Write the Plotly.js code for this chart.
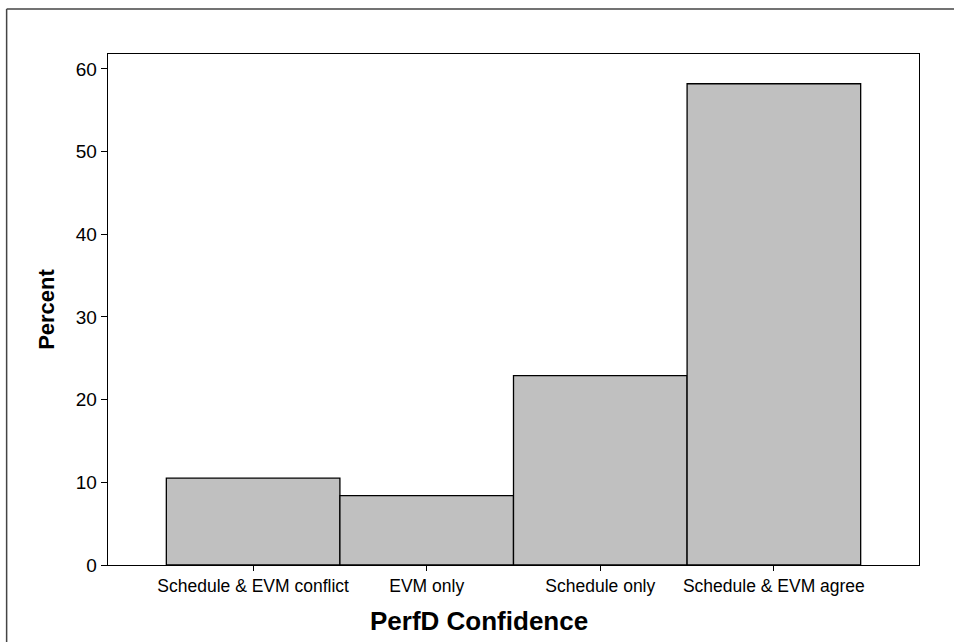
<!DOCTYPE html>
<html><head><meta charset="utf-8">
<script src="https://cdn.plot.ly/plotly-3.0.1.min.js"></script>
<style>html,body{margin:0;padding:0;background:#fff}#chart{width:954px;height:642px}</style>
</head><body><div id="chart"></div>
<script>
const categories = ["Schedule & EVM conflict", "EVM only", "Schedule only", "Schedule & EVM agree"];
const percents = [10.5, 8.4, 22.9, 58.2];
const yTicks = [0, 10, 20, 30, 40, 50, 60];
const xTitle = 'PerfD Confidence';
const yTitle = 'Percent';

const trace = {
  type: 'bar',
  x: [0, 1, 2, 3],
  y: percents,
  width: 1,
  marker: {color: '#c0c0c0', line: {color: '#000', width: 1.3}},
  hoverinfo: 'skip'
};
const layout = {
  width: 954, height: 642,
  margin: {l: 108, r: 35, t: 54, b: 77},
  paper_bgcolor: '#fff', plot_bgcolor: '#fff',
  showlegend: false,
  bargap: 0,
  font: {family: 'Liberation Sans, Arial, sans-serif', color: '#000'},
  xaxis: {
    range: [-0.836, 3.836],
    tickvals: [0, 1, 2, 3], ticktext: categories,
    ticks: 'outside', ticklen: 5, tickwidth: 1, tickcolor: '#000',
    tickfont: {size: 17.5},
    showgrid: false, zeroline: false,
    showline: true, mirror: true, linecolor: '#000', linewidth: 1.3
  },
  yaxis: {
    range: [0, 61.8],
    tickvals: yTicks,
    ticks: 'outside', ticklen: 6, tickwidth: 1, tickcolor: '#000',
    tickfont: {size: 19},
    showgrid: false, zeroline: false,
    showline: true, mirror: true, linecolor: '#000', linewidth: 1.3,
    title: {text: '<b>' + yTitle + '</b>', font: {size: 22}, standoff: 15}
  },
  annotations: [
    {text: '<b>' + xTitle + '</b>', xref: 'paper', yref: 'paper', x: 0.4575, y: -0.1096,
     xanchor: 'center', yanchor: 'middle', showarrow: false, font: {size: 26}}
  ],
  shapes: [
    {type: 'line', xref: 'paper', yref: 'paper', x0: -0.125, x1: 1.1, y0: 1.088, y1: 1.088, line: {color: '#444', width: 1.5}},
    {type: 'line', xref: 'paper', yref: 'paper', x0: -0.125, x1: -0.125, y0: 1.088, y1: -0.2, line: {color: '#444', width: 1.5}}
  ]
};
Plotly.newPlot('chart', [trace], layout, {displayModeBar: false, staticPlot: true});
</script></body></html>
